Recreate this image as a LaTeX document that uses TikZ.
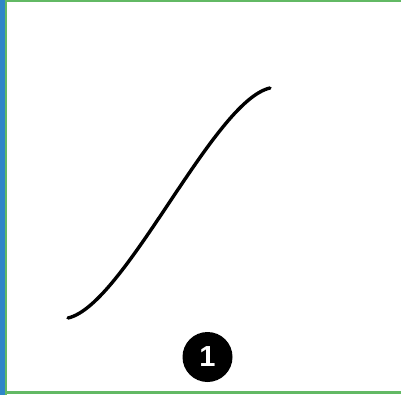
\documentclass[tikz,border=0pt]{standalone}
\usepackage{fontspec}
\setmainfont{Liberation Sans}
\definecolor{frameblue}{HTML}{2F86C8}
\definecolor{framegreen}{HTML}{62B964}
\tikzset{
  curveline/.style={line width=3.4pt, line cap=round, black},
  badge/.style={circle, fill=black, minimum size=50pt, inner sep=0pt, text=white, font=\bfseries\fontsize{29}{29}\selectfont}
}
\begin{document}
\begin{tikzpicture}[x=1pt,y=-1pt]
\useasboundingbox (0,0) rectangle (401,395);
\fill[white] (0,0) rectangle (401,395);
% frame
\fill[framegreen] (0,0) rectangle (401,2.5);
\fill[framegreen] (0,391) rectangle (401,394);
\fill[framegreen] (5,0) rectangle (7,395);
\fill[frameblue] (0,0) rectangle (5,395);
% S-curve
\coordinate (s) at (68,318);
\coordinate (e) at (270,88);
\draw[curveline] (s) .. controls (125,305) and (213,101) .. (e);
% badge
\node[badge] (n1) at (207.5,357) {1};
\end{tikzpicture}
\end{document}
